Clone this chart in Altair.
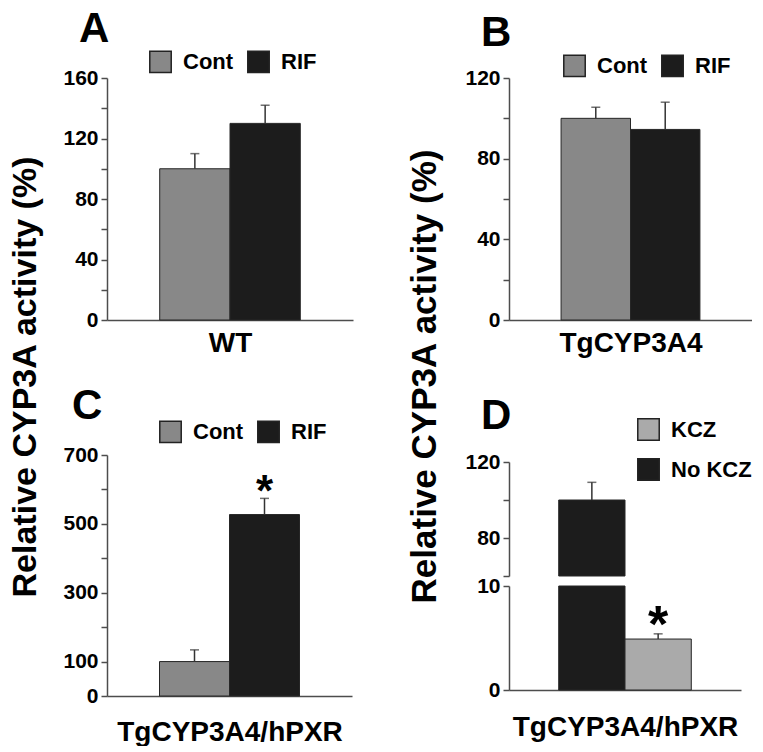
import altair as alt
import pandas as pd

FONT = "Liberation Sans"
AXIS_COLOR = "#4d4d4d"
ERR_COLOR = "#333333"
Y_TITLE = "Relative CYP3A activity (%)"

# ---- data ----
a_groups = ["Cont", "RIF"]
a_values = [100, 130]
a_errors = [10, 12]

b_groups = ["Cont", "RIF"]
b_values = [100, 94.5]
b_errors = [5.5, 13.5]

c_groups = ["Cont", "RIF"]
c_values = [100, 527]
c_errors = [34, 47]
c_stars = ["", "*"]

d_groups = ["No KCZ", "KCZ"]
d_values = [100, 4.9]
d_errors = [9.3, 0.5]
d_stars = ["", "*"]

rif_domain = ["Cont", "RIF"]
rif_colors = ["#888888", "#1c1c1c"]
kcz_domain = ["KCZ", "No KCZ"]
kcz_colors = ["#aaaaaa", "#1c1c1c"]


def frame(groups, values, errors, stars=None):
    d = pd.DataFrame({"group": groups, "value": values, "err": errors})
    d["top"] = d["value"] + d["err"]
    d["star"] = stars if stars else [""] * len(groups)
    return d


def y_axis(values, labelled):
    return alt.Axis(
        values=values,
        labelExpr=f"indexof({labelled}, datum.value) >= 0 ? datum.label : ''",
        grid=False, title=None,
        domainColor=AXIS_COLOR, domainWidth=1.5,
        tickColor=AXIS_COLOR, tickWidth=1.5, tickSize=6,
        labelFont=FONT, labelFontSize=21, labelFontWeight="bold",
        labelColor="black", labelPadding=3, labelOverlap=False,
    )


def x_axis(title, pad):
    if title is None:
        return None
    return alt.Axis(
        labels=False, ticks=False, grid=False,
        domainColor=AXIS_COLOR, domainWidth=1.5,
        title=title, titleFont=FONT, titleFontSize=28,
        titleFontWeight="bold", titleColor="black", titlePadding=pad,
    )


def legend(x, y, direction="horizontal"):
    return alt.Legend(
        orient="none", legendX=x, legendY=y, direction=direction, title=None,
        symbolType="square", symbolSize=460, symbolStrokeColor="#222222",
        symbolStrokeWidth=1.5, symbolOpacity=1,
        labelFont=FONT, labelFontSize=22, labelFontWeight="bold",
        labelColor="black", labelOffset=11, columnPadding=10, rowPadding=11,
        padding=0,
    )


def letter(t, offset, dx):
    return alt.TitleParams(
        t, anchor="start", frame="group", orient="top", font=FONT,
        fontSize=42, fontWeight="bold", color="black", offset=offset, dx=dx,
    )


def panel(df, groups, cdomain, crange, ydom, yvals, ylabs, xtitle, w, h,
          leg=None, title=None, clamp=False, bar_filter=None,
          err_filter=None, star_size=44, xpad=9):
    x = alt.X("group:N", sort=groups,
              scale=alt.Scale(domain=groups, paddingInner=0, paddingOuter=0.75),
              axis=x_axis(xtitle, xpad))
    ys = alt.Scale(domain=ydom, nice=False, zero=False, clamp=clamp)
    ya = y_axis(yvals, ylabs)
    base = alt.Chart(df)
    bars = base.mark_bar(stroke="#262626", strokeWidth=1).encode(
        x=x,
        y=alt.Y("value:Q", scale=ys, axis=ya),
        y2=alt.Y2(datum=0),
        color=alt.Color("group:N", scale=alt.Scale(domain=cdomain, range=crange),
                        legend=leg),
    )
    if bar_filter:
        bars = bars.transform_filter(bar_filter)
    rule = base.mark_rule(color=ERR_COLOR, strokeWidth=1.5).encode(
        x=x, y=alt.Y("value:Q", scale=ys, axis=ya), y2="top:Q")
    cap = base.mark_tick(color=ERR_COLOR, thickness=1.5, size=9).encode(
        x=x, y=alt.Y("top:Q", scale=ys, axis=ya))
    star = base.mark_text(font=FONT, fontSize=star_size, fontWeight="bold",
                          baseline="alphabetic", dy=8, color="black").encode(
        x=x, y=alt.Y("top:Q", scale=ys, axis=ya), text="star:N"
    ).transform_filter("datum.star != ''")
    if err_filter:
        rule = rule.transform_filter(err_filter)
        cap = cap.transform_filter(err_filter)
        star = star.transform_filter(err_filter)
    props = dict(width=w, height=h)
    if title is not None:
        props["title"] = title
    return alt.layer(bars, rule, cap, star).properties(**props)


dfA = frame(a_groups, a_values, a_errors)
dfB = frame(b_groups, b_values, b_errors)
dfC = frame(c_groups, c_values, c_errors, c_stars)
dfD = frame(d_groups, d_values, d_errors, d_stars)

pA = panel(dfA, a_groups, rif_domain, rif_colors, [0, 160],
           list(range(0, 161, 20)), [0, 40, 80, 120, 160], "WT", 246, 242,
           leg=legend(42, -28), title=letter("A", -1, -28), xpad=9)
pB = panel(dfB, b_groups, rif_domain, rif_colors, [0, 120],
           list(range(0, 121, 20)), [0, 40, 80, 120], "TgCYP3A4", 243, 242,
           leg=legend(54, -24), title=letter("B", -1, -28), xpad=9)
pC = panel(dfC, c_groups, rif_domain, rif_colors, [0, 700],
           list(range(0, 701, 100)), [0, 100, 300, 500, 700], "TgCYP3A4/hPXR",
           245, 241, leg=legend(52, -35), title=letter("C", -8, -35),
           star_size=44, xpad=22)
pDu = panel(dfD, d_groups, kcz_domain, kcz_colors, [60, 120],
            [60, 80, 100, 120], [80, 120], None, 232, 114,
            leg=legend(128, -44, "vertical"), title=letter("D", -20, -28),
            clamp=True, bar_filter="datum.value >= 60",
            err_filter="datum.value >= 60")
pDl = panel(dfD, d_groups, kcz_domain, kcz_colors, [0, 10],
            [0, 10], [0, 10], "TgCYP3A4/hPXR", 232, 104,
            leg=None, clamp=True, err_filter="datum.top <= 10", star_size=52,
            xpad=23)


def ytitle(size, offset):
    return alt.TitleParams(Y_TITLE, orient="left", anchor="middle", font=FONT,
                           fontSize=size, fontWeight="bold", color="black",
                           offset=offset)


left = alt.vconcat(pA, pC, spacing=135, bounds="flush",
                   title=ytitle(34, 20)).resolve_scale(color="independent")
dcol = alt.vconcat(pDu, pDl, spacing=10, bounds="flush").resolve_scale(
    color="independent")
right = alt.vconcat(pB, dcol, spacing=142, bounds="flush",
                    title=ytitle(35, 22)).resolve_scale(color="independent")

chart = alt.hconcat(left, right, spacing=402, bounds="flush").resolve_scale(
    color="independent"
).properties(
    padding={"left": 0, "top": 0, "right": 0, "bottom": 0}
).configure_view(stroke=None)

chart.save("out.html", embed_options={"renderer": "svg", "actions": False})
